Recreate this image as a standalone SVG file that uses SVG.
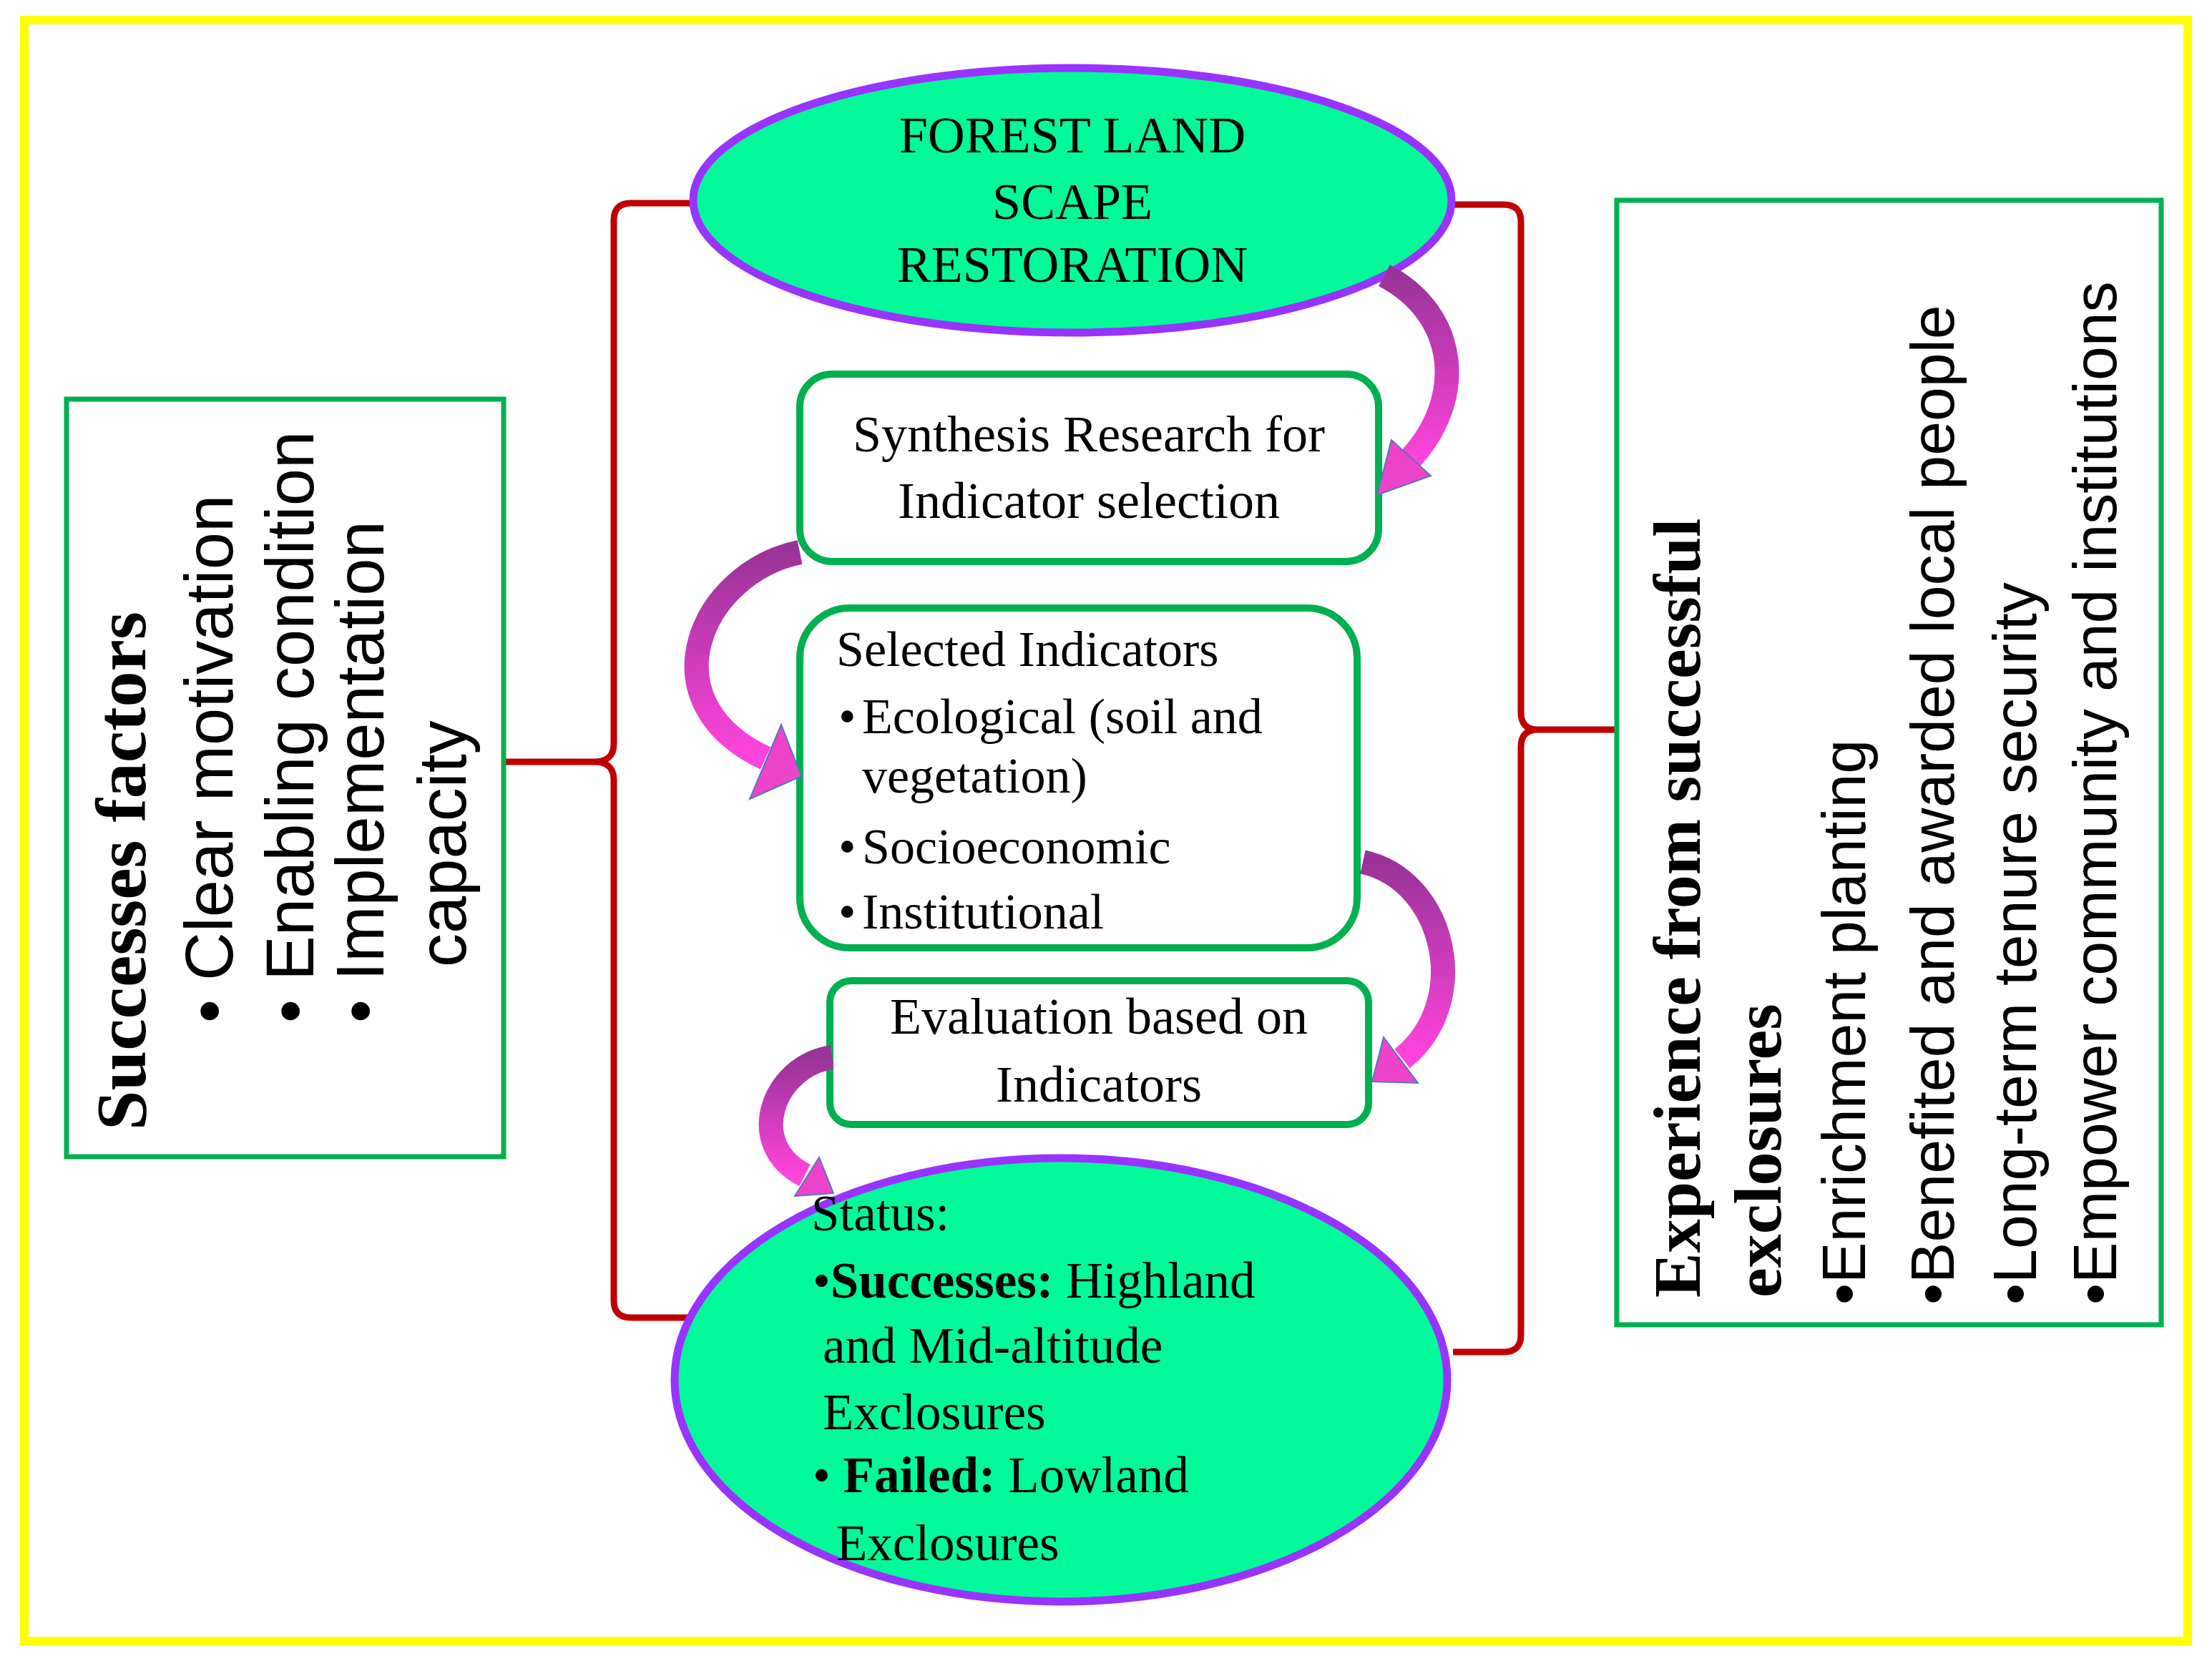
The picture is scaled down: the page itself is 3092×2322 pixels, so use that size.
<svg xmlns="http://www.w3.org/2000/svg" width="3092" height="2322" viewBox="0 0 3092 2322">
<style>
.ser{font-family:"Liberation Serif","Times New Roman",serif;fill:#000}
.san{font-family:"Liberation Sans",Arial,sans-serif;fill:#000}
.box{fill:#fff;stroke:#00b050;stroke-width:10}
.ell{fill:#00fa9a;stroke:#9933ff;stroke-width:11}
.br{fill:none;stroke:#c00000;stroke-width:9;stroke-linejoin:round}
.arr{fill:none;stroke:url(#g);stroke-width:34}
.ah{fill:#ee44cc;stroke:#5577bb;stroke-width:2}
</style>
<defs>
<linearGradient id="g" x1="0" y1="0" x2="0" y2="1"><stop offset="0" stop-color="#993399"/><stop offset="1" stop-color="#ff44dd"/></linearGradient>
</defs>
<rect x="0" y="0" width="3092" height="2322" fill="#fff"/>
<rect x="34" y="28" width="3024" height="2266" fill="none" stroke="#ffff00" stroke-width="12"/>
<g id="connectors">
<path class="br" d="M966,284 L882,284 Q858,284 858,308 L858,1040 Q858,1065 830,1065 L704,1065 M830,1065 Q858,1065 858,1090 L858,1818 Q858,1842 882,1842 L966,1842"/>
<path class="br" d="M2031,286 L2102,286 Q2126,286 2126,310 L2126,996 Q2126,1020 2150,1020 L2260,1020 M2150,1020 Q2126,1020 2126,1044 L2126,1866 Q2126,1890 2102,1890 L2031,1890"/>
</g>
<g id="n-top"><ellipse class="ell" cx="1499" cy="280" rx="530" ry="185"/>
<text class="ser" font-size="72" text-anchor="middle"><tspan x="1499" y="213">FOREST LAND</tspan><tspan x="1499" y="306">SCAPE</tspan><tspan x="1499" y="394">RESTORATION</tspan></text></g>
<g id="n-synth"><rect class="box" x="1118" y="523" width="809" height="262" rx="45"/>
<text class="ser" font-size="72" text-anchor="middle"><tspan x="1522" y="631">Synthesis Research for</tspan><tspan x="1522" y="724">Indicator selection</tspan></text></g>
<g id="n-sel"><rect class="box" x="1118" y="850" width="779" height="475" rx="70"/>
<text class="ser" font-size="70"><tspan x="1169" y="931">Selected Indicators</tspan>
<tspan x="1172" y="1025">•</tspan><tspan x="1205" y="1025">Ecological (soil and</tspan>
<tspan x="1205" y="1108">vegetation)</tspan>
<tspan x="1172" y="1207">•</tspan><tspan x="1205" y="1207">Socioeconomic</tspan>
<tspan x="1172" y="1298">•</tspan><tspan x="1205" y="1298">Institutional</tspan></text></g>
<g id="n-eval"><rect class="box" x="1160" y="1371" width="753" height="201" rx="30"/>
<text class="ser" font-size="72" text-anchor="middle"><tspan x="1536" y="1445">Evaluation based on</tspan><tspan x="1536" y="1540">Indicators</tspan></text></g>
<g id="n-status"><ellipse class="ell" cx="1483" cy="1929" rx="540" ry="310"/>
<text class="ser" font-size="71"><tspan x="1134" y="1720">Status:</tspan>
<tspan x="1136" y="1814">•<tspan font-weight="bold">Successes:</tspan> Highland</tspan>
<tspan x="1150" y="1905">and Mid-altitude</tspan>
<tspan x="1150" y="1998">Exclosures</tspan>
<tspan x="1136" y="2086">• <tspan font-weight="bold">Failed:</tspan> Lowland</tspan>
<tspan x="1169" y="2181">Exclosures</tspan></text></g>
<g id="n-left"><rect x="93" y="558" width="611" height="1059" fill="#fff" stroke="#00b050" stroke-width="7"/>
<text class="ser" font-size="100" font-weight="bold" transform="translate(203,1580) rotate(-90)">Successes factors</text>
<text class="san" font-size="94" transform="translate(325,1430) rotate(-90)">•  Clear motivation</text>
<text class="san" font-size="94" transform="translate(438,1430) rotate(-90)">•  Enabling condition</text>
<text class="san" font-size="94" transform="translate(536,1430) rotate(-90)">•  Implementation</text>
<text class="san" font-size="94" transform="translate(651,1352) rotate(-90)">capacity</text></g>
<g id="n-right"><rect x="2260" y="280" width="761" height="1572" fill="#fff" stroke="#00b050" stroke-width="7"/>
<text class="ser" font-size="94" font-weight="bold" transform="translate(2376,1814) rotate(-90)">Experience from successful</text>
<text class="ser" font-size="94" font-weight="bold" transform="translate(2489,1814) rotate(-90)">exclosures</text>
<text class="san" font-size="86" transform="translate(2607,1824) rotate(-90)">•Enrichment planting</text>
<text class="san" font-size="86" transform="translate(2731,1824) rotate(-90)">•Benefited and awarded local people</text>
<text class="san" font-size="86" transform="translate(2846,1824) rotate(-90)">•Long-term tenure security</text>
<text class="san" font-size="86" transform="translate(2958,1824) rotate(-90)">•Empower community and institutions</text></g>
<g id="arrows">
<path class="arr" d="M1935,385 C2040,440 2050,560 1968,645"/>
<polygon class="ah" points="1925,692 1945,615 2000,665"/>
<path class="arr" stroke-width="44" d="M1118,772 C980,800 900,980 1070,1060"/>
<polygon class="ah" points="1120,1085 1048,1117 1092,1013"/>
<path class="arr" d="M1905,1205 C2020,1230 2060,1400 1960,1480"/>
<polygon class="ah" points="1918,1512 1982,1514 1934,1450"/>
<path class="arr" stroke-width="22" d="M1163,1478 C1080,1490 1040,1600 1125,1643"/>
<polygon class="ah" points="1165,1668 1111,1672 1145,1618"/>
</g>
</svg>
